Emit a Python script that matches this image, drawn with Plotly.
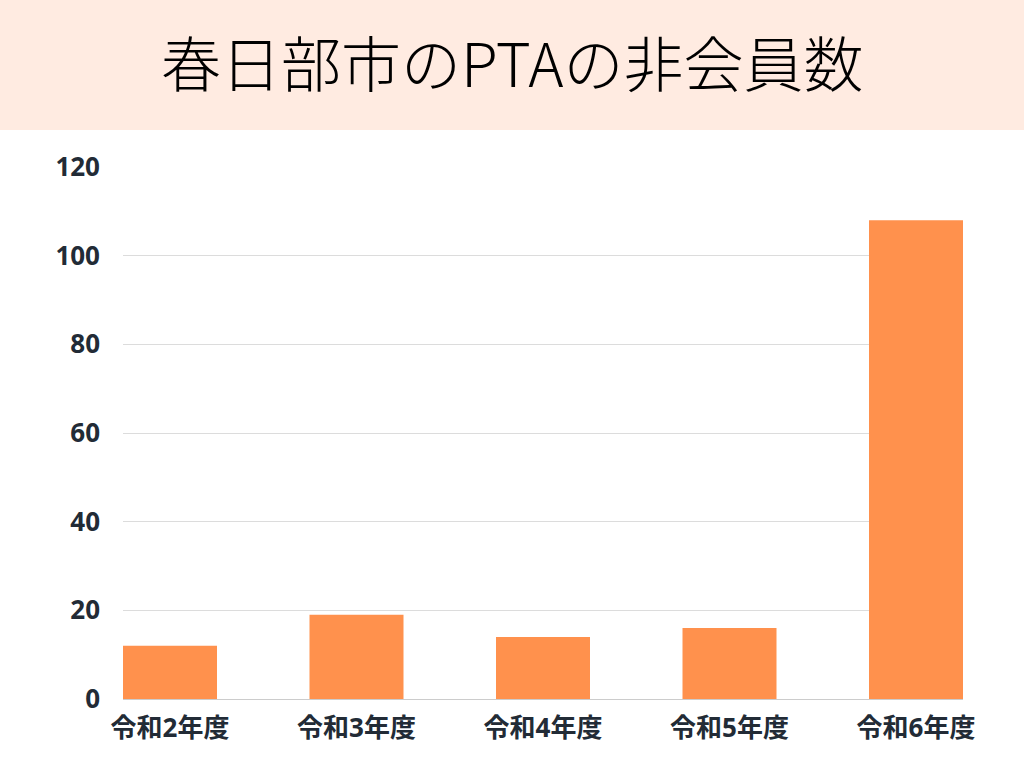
import plotly.graph_objects as go

# 年度ごとのPTA非会員数
years = ["令和2年度", "令和3年度", "令和4年度", "令和5年度", "令和6年度"]
non_members = [12, 19, 14, 16, 108]
y_ticks = [0, 20, 40, 60, 80, 100, 120]

title_text = "春日部市のPTAの非会員数"

fig = go.Figure()
fig.add_trace(go.Bar(
    x=years, y=non_members,
    marker=dict(color="#FF914D", line=dict(width=0)),
    width=0.504,
    hoverinfo="x+y",
))

# plot area: x 123..963, y 167..699 (px)
pw, ph = 840, 532
fig.add_shape(type="rect", xref="paper", yref="paper",
              x0=-123/pw, x1=(1024-123)/pw,
              y0=(699-130)/ph, y1=(699+5)/ph + 0.3,
              fillcolor="#FFEBE1", line=dict(width=0), layer="below")

fig.add_annotation(text=title_text, xref="paper", yref="paper",
                   x=(512-123)/pw, y=(699-60)/ph, showarrow=False,
                   xanchor="center", yanchor="middle",
                   font=dict(family="Noto Sans CJK JP", size=60, color="#000000", weight=300))

tick_font = dict(family="Open Sans, Noto Sans CJK JP", size=26, color="#222b36", weight="bold")

fig.update_layout(
    width=1024, height=768,
    margin=dict(l=123, r=61, t=167, b=69),
    paper_bgcolor="white", plot_bgcolor="white",
    showlegend=False,
    bargap=0.5,
)
fig.update_xaxes(
    range=[-0.252, 4.252],
    showgrid=False,
    showline=True, linecolor="#cccccc", linewidth=1,
    ticks="", ticklabelstandoff=6,
    tickfont=tick_font,
)
fig.update_yaxes(
    range=[0, 120],
    tickvals=y_ticks,
    showgrid=True, gridcolor="#dcdcdc", gridwidth=1,
    zeroline=False,
    ticks="", ticklabelstandoff=22,
    tickfont=tick_font,
)

fig.write_html("out.html", config={"displayModeBar": False},
               post_script="document.body.style.margin='0';")
